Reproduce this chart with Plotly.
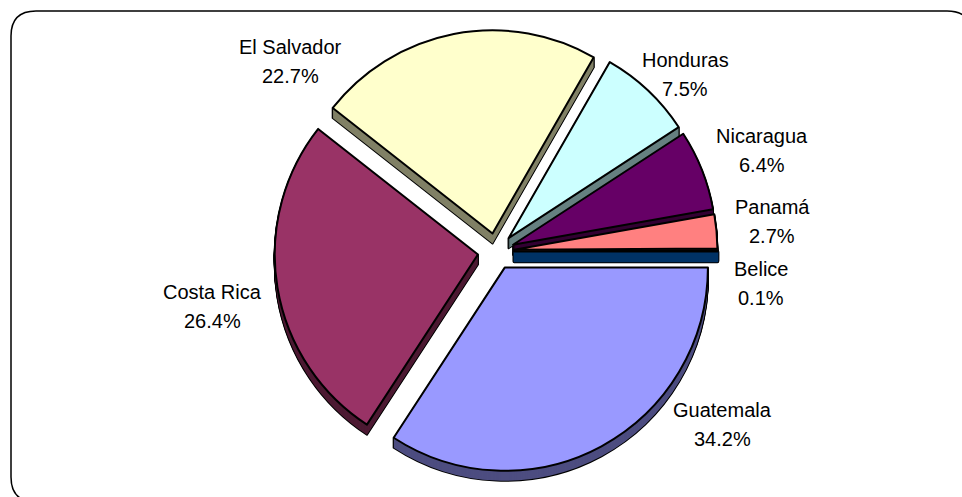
import plotly.graph_objects as go

W, H = 962, 497

# Data
labels = ["Guatemala", "Costa Rica", "El Salvador", "Honduras", "Nicaragua", "Panamá", "Belice"]
values = [34.2, 26.4, 22.7, 7.5, 6.4, 2.7, 0.1]
top_colors = ["#9999FF", "#993366", "#FFFFCC", "#CCFFFF", "#660066", "#FF8080", "#0066CC"]
side_colors = ["#4D4D80", "#4D1A33", "#808066", "#668080", "#330033", "#804040", "#003366"]
pulls = [0.09] * 7

# Layout of pie and its labels (pixels)
cx, cy = 496, 251.5
size = 443
depth = 10
name_pos = {"Guatemala": (722, 410), "Costa Rica": (212, 292), "El Salvador": (290, 47),
            "Honduras": (685, 60), "Nicaragua": (762, 136), "Panamá": (772, 207), "Belice": (761, 269)}
line_gap = 29
font = dict(family="Liberation Sans, Arial, sans-serif", size=20, color="black")
CLEAR = "rgba(0,0,0,0)"
OUTLINE = 2


def pie(offset, colors, line_colors=None, line_widths=None):
    return go.Pie(
        labels=labels, values=values, sort=False, direction="clockwise", rotation=90,
        pull=pulls, textinfo="none", hoverinfo="skip", showlegend=False,
        marker=dict(colors=colors,
                    line=dict(color=line_colors if line_colors else colors,
                              width=line_widths if line_widths else [0] * len(values))),
        domain=dict(x=[(cx - size / 2) / W, (cx + size / 2) / W],
                    y=[1 - (cy + offset + size / 2) / H, 1 - (cy + offset - size / 2) / H]),
    )


fig = go.Figure()
n = len(values)
black = ["black"] * n
# Extruded side: black silhouette first, then side colour fill
for d in range(depth, 0, -1):
    fig.add_trace(pie(d, side_colors, black, [OUTLINE] * n))
for d in range(depth, 0, -1):
    fig.add_trace(pie(d, side_colors))
# The thin last slice's side sits in front of its neighbour
only_last = [CLEAR] * (n - 1)
last_side = only_last + [side_colors[-1]]
for d in range(depth, 0, -1):
    fig.add_trace(pie(d, last_side, only_last + ["black"], [0] * (n - 1) + [OUTLINE + 1.5]))
for d in range(depth, 0, -1):
    fig.add_trace(pie(d, last_side, last_side, [0] * (n - 1) + [1.5]))
fig.add_trace(pie(0, top_colors, black, [OUTLINE] * n))

annotations = []
for name, v in zip(labels, values):
    x, y = name_pos[name]
    for i, t in enumerate([name, f"{v:.1f}%"]):
        annotations.append(dict(text=t, x=x / W, y=1 - (y + i * line_gap) / H, xref="paper", yref="paper",
                                xanchor="center", yanchor="middle", showarrow=False, font=font))

L, T, R, B, r = 11, 11, 972, 502, 25
fig.update_layout(
    width=W, height=H, margin=dict(l=0, r=0, t=0, b=0),
    paper_bgcolor="white", plot_bgcolor="white", annotations=annotations,
    shapes=[dict(type="path", xref="paper", yref="paper", layer="below",
                 path=" ".join([
                     f"M {(L+r)/W} {1-T/H}", f"L {(R-r)/W} {1-T/H}",
                     f"Q {R/W} {1-T/H} {R/W} {1-(T+r)/H}", f"L {R/W} {1-(B-r)/H}",
                     f"Q {R/W} {1-B/H} {(R-r)/W} {1-B/H}", f"L {(L+r)/W} {1-B/H}",
                     f"Q {L/W} {1-B/H} {L/W} {1-(B-r)/H}", f"L {L/W} {1-(T+r)/H}",
                     f"Q {L/W} {1-T/H} {(L+r)/W} {1-T/H}", "Z"]),
                 line=dict(color="black", width=1.5), fillcolor="white")],
)
fig.write_html("out.html", config={"displayModeBar": False},
               post_script="document.body.style.margin='0';document.documentElement.style.overflow='hidden';")
